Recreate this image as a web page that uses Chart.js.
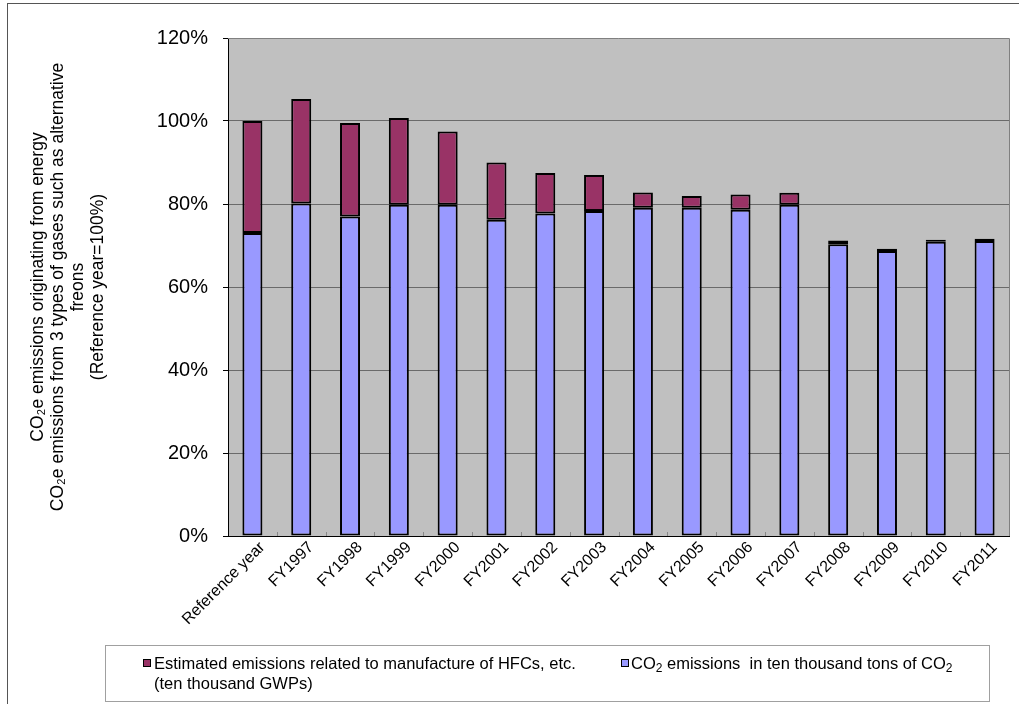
<!DOCTYPE html>
<html>
<head>
<meta charset="utf-8">
<script src="https://cdn.jsdelivr.net/npm/chart.js@4.4.0/dist/chart.umd.min.js"></script>
<style>
  html, body { margin: 0; padding: 0; background: #ffffff; }
  #wrap { width: 1019px; height: 704px; }
</style>
</head>
<body>
<div id="wrap"><canvas id="chartEmissions" width="1019" height="704"></canvas></div>
<script>
// --- Data (% of reference year) ---
const categories = ['Reference year', 'FY1997', 'FY1998', 'FY1999', 'FY2000', 'FY2001', 'FY2002', 'FY2003',
    'FY2004', 'FY2005', 'FY2006', 'FY2007', 'FY2008', 'FY2009', 'FY2010', 'FY2011'];
const co2Values = [73.0, 80.1, 77.0, 79.8, 79.8, 76.2, 77.7, 78.3, 79.1, 79.1, 78.6, 79.8, 70.3, 68.7, 70.9, 71.1];
const hfcValues = [27.0, 25.2, 22.5, 20.9, 17.7, 13.8, 9.8, 8.7, 3.7, 2.8, 3.7, 2.9, 0.9, 0.5, 0.5, 0.5];
const yTicks = [0, 20, 40, 60, 80, 100, 120];
const yTitle = ['CO\u2082e emissions originating from energy',
    'CO\u2082e emissions from 3 types of gases such as alternative',
    'freons', '(Reference year=100%)'];
const hfcLabel = ['Estimated emissions related to manufacture of HFCs, etc.', '(ten thousand GWPs)'];
const co2Label = [['CO', false], ['2', true], [' emissions  in ten thousand tons of CO', false], ['2', true]];

const FONT = '"Liberation Sans", Arial, sans-serif';
const colHfc = '#993366';
const colCo2 = '#9999ff';

// --- Plot background, frame, inner tick marks, legend box ---
const plotFrame = {
    id: 'plotFrame',
    beforeDraw: (chart) => {
        const { ctx, chartArea: { left, right, top, bottom } } = chart;
        ctx.save();
        ctx.fillStyle = '#c0c0c0';
        ctx.fillRect(left, top, right - left, bottom - top);
        ctx.restore();
    },
    afterDatasetsDraw: (chart) => {
        const { ctx, chartArea: { left, right, top, bottom }, scales: { x } } = chart;
        ctx.save();
        ctx.strokeStyle = '#808080';
        ctx.lineWidth = 1;
        ctx.beginPath();
        ctx.moveTo(left, top + 0.5);
        ctx.lineTo(right + 0.5, top + 0.5);
        ctx.lineTo(right + 0.5, bottom);
        ctx.stroke();
        // small category separators sitting on the x axis
        ctx.strokeStyle = '#888';
        for (let i = 1; i < categories.length; i++) {
            const px = Math.round((x.getPixelForTick(i - 1) + x.getPixelForTick(i)) / 2) + 0.5;
            ctx.beginPath();
            ctx.moveTo(px, bottom);
            ctx.lineTo(px, bottom - 4);
            ctx.stroke();
        }
        ctx.restore();
    },
    afterDraw: (chart) => {
        const { ctx } = chart;
        ctx.save();
        // outer frame
        ctx.strokeStyle = '#555';
        ctx.lineWidth = 1;
        ctx.strokeRect(7.5, 3.5, 1100, 800);

        // legend box
        ctx.strokeStyle = '#a0a0a0';
        ctx.fillStyle = '#ffffff';
        ctx.fillRect(105.5, 645.5, 884, 56);
        ctx.strokeRect(105.5, 645.5, 884, 56);

        const drawMarker = (x, y, color) => {
            ctx.fillStyle = color;
            ctx.fillRect(x, y, 8, 8);
            ctx.strokeStyle = '#000';
            ctx.strokeRect(x + 0.5, y + 0.5, 7, 7);
        };
        ctx.textBaseline = 'alphabetic';
        ctx.font = '16.5px ' + FONT;

        drawMarker(143, 659, colHfc);
        ctx.fillStyle = '#000';
        ctx.fillText(hfcLabel[0], 154, 669);
        ctx.fillText(hfcLabel[1], 154, 689);

        drawMarker(621, 659, colCo2);
        let tx = 631;
        co2Label.forEach(([txt, sub]) => {
            ctx.fillStyle = '#000';
            ctx.font = (sub ? '12px ' : '16.5px ') + FONT;
            ctx.fillText(txt, tx, sub ? 672 : 669);
            tx += ctx.measureText(txt).width;
        });
        ctx.restore();
    }
};

new Chart(document.getElementById('chartEmissions'), {
    type: 'bar',
    data: {
        labels: categories,
        datasets: [
            {
                label: 'CO2 emissions in ten thousand tons of CO2',
                data: co2Values,
                backgroundColor: colCo2,
                borderColor: '#000',
                borderWidth: 2,
                borderSkipped: false,
                barPercentage: 0.41,
                categoryPercentage: 1
            },
            {
                label: hfcLabel.join(' '),
                data: hfcValues,
                backgroundColor: colHfc,
                borderColor: '#000',
                borderWidth: 2,
                borderSkipped: false,
                barPercentage: 0.41,
                categoryPercentage: 1
            }
        ]
    },
    options: {
        responsive: false,
        animation: false,
        layout: { padding: { left: 0, top: 38, right: 10, bottom: 0 } },
        plugins: {
            legend: { display: false },
            tooltip: { enabled: false }
        },
        scales: {
            x: {
                stacked: true,
                grid: { display: false },
                border: { color: '#000', width: 1 },
                ticks: {
                    color: '#000',
                    font: { family: FONT, size: 16 },
                    minRotation: 45,
                    maxRotation: 45,
                    padding: -6,
                    labelOffset: 10,
                    autoSkip: false
                },
                afterFit: (scale) => { scale.height = 168; }
            },
            y: {
                stacked: true,
                min: 0,
                max: 120,
                afterBuildTicks: (scale) => { scale.ticks = yTicks.map(v => ({ value: v })); },
                grid: {
                    color: (ctx) => (ctx.tick && ctx.tick.value > 0 && ctx.tick.value < 120) ? '#6a6a6a' : 'rgba(0,0,0,0)',
                    tickColor: '#000',
                    tickLength: 5,
                    drawTicks: true
                },
                border: { color: '#000', width: 1 },
                ticks: {
                    color: '#000',
                    font: { family: FONT, size: 20 },
                    padding: 15,
                    callback: (v) => v + '%'
                },
                title: {
                    display: true,
                    text: yTitle,
                    color: '#000',
                    font: { family: FONT, size: 17.5, lineHeight: 1.143 },
                    padding: { top: 28, bottom: 0 }
                },
                afterFit: (scale) => { scale.width = 228; }
            }
        }
    },
    plugins: [plotFrame]
});
</script>
</body>
</html>
